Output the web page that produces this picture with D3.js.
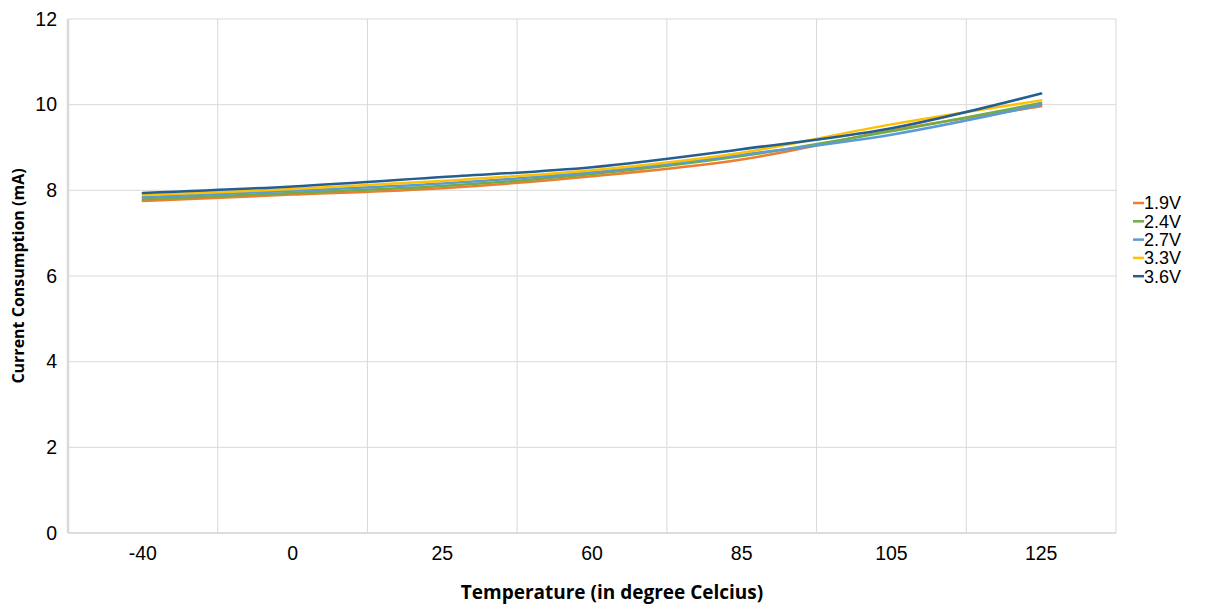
<!DOCTYPE html>
<html><head><meta charset="utf-8">
<script src="https://cdn.jsdelivr.net/npm/d3@7/dist/d3.min.js"></script>
<style>body{margin:0;background:#fff;} svg{display:block;}</style>
</head><body>
<svg id="chart" width="1206" height="607"></svg>
<script>
const categories = ["-40", "0", "25", "60", "85", "105", "125"];
const seriesNames = ["1.9V", "2.4V", "2.7V", "3.3V", "3.6V"];
const v19 = [7.75, 7.90, 8.05, 8.33, 8.72, 9.40, 9.96];
const v24 = [7.79, 7.94, 8.10, 8.38, 8.80, 9.38, 10.04];
const v27 = [7.84, 7.99, 8.16, 8.42, 8.83, 9.30, 10.00];
const v33 = [7.89, 8.03, 8.22, 8.47, 8.88, 9.54, 10.10];
const v36 = [7.94, 8.09, 8.31, 8.54, 8.96, 9.45, 10.26];
const yTicks = [0, 2, 4, 6, 8, 10, 12];
const colors = ["#ED7D31", "#70AD47", "#5B9BD5", "#FFC000", "#255E91"];
const series = [v19, v24, v27, v33, v36];

const svg = d3.select("#chart");
const L = 68, R = 1116, T = 19, B = 533;
const x = d3.scaleBand().domain(categories).range([L, R]).padding(0);
const y = d3.scaleLinear().domain([0, 12]).range([B, T]);

// horizontal gridlines
svg.append("g").selectAll("line").data(yTicks).join("line")
  .attr("x1", L).attr("x2", R).attr("y1", d => y(d)).attr("y2", d => y(d))
  .attr("stroke", "#d9d9d9").attr("stroke-width", 1);
// vertical gridlines at category boundaries
svg.append("g").selectAll("line").data(categories).join("line")
  .attr("x1", d => x(d) + x.bandwidth())
  .attr("x2", d => x(d) + x.bandwidth())
  .attr("y1", T).attr("y2", B)
  .attr("stroke", "#d9d9d9").attr("stroke-width", 1);
// axes lines
svg.append("line").attr("x1", L).attr("x2", L).attr("y1", T).attr("y2", B)
  .attr("stroke", "#d9d9d9").attr("stroke-width", 2.5);
svg.append("line").attr("x1", L).attr("x2", R).attr("y1", B).attr("y2", B)
  .attr("stroke", "#d9d9d9").attr("stroke-width", 1.5);

// y axis labels
const yAxis = d3.axisLeft(y).tickValues(yTicks).tickSize(0).tickPadding(11);
const gy = svg.append("g").attr("transform", `translate(${L},0)`).call(yAxis);
gy.select(".domain").remove();
gy.selectAll("text").attr("font-family", "Liberation Sans, Arial, sans-serif")
  .attr("font-size", 19.5).attr("fill", "#000");

// x axis labels
const xAxis = d3.axisBottom(x).tickSize(0).tickPadding(13);
const gx = svg.append("g").attr("transform", `translate(0,${B})`).call(xAxis);
gx.select(".domain").remove();
gx.selectAll("text").attr("font-family", "Liberation Sans, Arial, sans-serif")
  .attr("font-size", 19.5).attr("fill", "#000");

// lines
const line = d3.line()
  .x((d, i) => x(categories[i]) + x.bandwidth() / 2)
  .y(d => y(d))
  .curve(d3.curveCatmullRom.alpha(0.5));
svg.append("g").selectAll("path").data(series).join("path")
  .attr("d", d => line(d)).attr("fill", "none")
  .attr("stroke", (d, i) => colors[i]).attr("stroke-width", 2.5)
  .attr("stroke-linecap", "round");

// axis titles
svg.append("text").attr("x", 612).attr("y", 599)
  .attr("text-anchor", "middle").attr("font-family", "Open Sans, sans-serif")
  .attr("font-weight", "bold").attr("font-size", 19).attr("fill", "#000")
  .text("Temperature (in degree Celcius)");
svg.append("text").attr("transform", `translate(24,${(T + B) / 2}) rotate(-90)`)
  .attr("text-anchor", "middle").attr("font-family", "Open Sans, sans-serif")
  .attr("font-weight", "bold").attr("font-size", 16).attr("fill", "#000")
  .text("Current Consumption (mA)");

// legend
const lg = svg.append("g").attr("transform", "translate(1133,203)");
const items = lg.selectAll("g").data(seriesNames).join("g")
  .attr("transform", (d, i) => `translate(0,${i * 18.3})`);
items.append("line").attr("x1", 0).attr("x2", 11).attr("y1", 0).attr("y2", 0)
  .attr("stroke", (d, i) => colors[i]).attr("stroke-width", 2.5);
items.append("text").attr("x", 11).attr("y", 0).attr("dy", "0.35em")
  .attr("font-family", "Liberation Sans, Arial, sans-serif").attr("font-size", 18)
  .attr("fill", "#000").text(d => d);
</script>
</body></html>
